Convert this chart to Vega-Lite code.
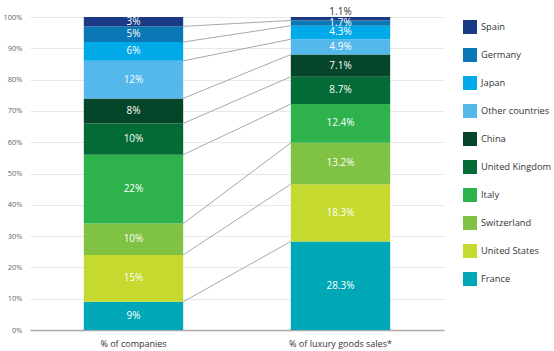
{
  "$schema": "https://vega.github.io/schema/vega-lite/v6.json",
  "autosize": {"type": "none"},
  "padding": {"left": 30, "top": 17, "right": 0, "bottom": 21},
  "width": 524,
  "height": 313,
  "config": {"view": {"stroke": null}, "font": "Open Sans",
    "axisY": {"title": null, "tickCount": 12, "labelOverlap": false, "labelFontSize": 7.5, "labelColor": "#666666", "labelPadding": 8, "ticks": false, "domain": false, "gridColor": "#e8e8e8", "gridWidth": 1}
  },
  "data": {"values": [
    {"measure": "% of companies", "country": "France", "rank": 1, "value": 9, "label": "9%"},
    {"measure": "% of companies", "country": "United States", "rank": 2, "value": 15, "label": "15%"},
    {"measure": "% of companies", "country": "Switzerland", "rank": 3, "value": 10, "label": "10%"},
    {"measure": "% of companies", "country": "Italy", "rank": 4, "value": 22, "label": "22%"},
    {"measure": "% of companies", "country": "United Kingdom", "rank": 5, "value": 10, "label": "10%"},
    {"measure": "% of companies", "country": "China", "rank": 6, "value": 8, "label": "8%"},
    {"measure": "% of companies", "country": "Other countries", "rank": 7, "value": 12, "label": "12%"},
    {"measure": "% of companies", "country": "Japan", "rank": 8, "value": 6, "label": "6%"},
    {"measure": "% of companies", "country": "Germany", "rank": 9, "value": 5, "label": "5%"},
    {"measure": "% of companies", "country": "Spain", "rank": 10, "value": 3, "label": "3%"},
    {"measure": "% of luxury goods sales*", "country": "France", "rank": 1, "value": 28.3, "label": "28.3%"},
    {"measure": "% of luxury goods sales*", "country": "United States", "rank": 2, "value": 18.3, "label": "18.3%"},
    {"measure": "% of luxury goods sales*", "country": "Switzerland", "rank": 3, "value": 13.2, "label": "13.2%"},
    {"measure": "% of luxury goods sales*", "country": "Italy", "rank": 4, "value": 12.4, "label": "12.4%"},
    {"measure": "% of luxury goods sales*", "country": "United Kingdom", "rank": 5, "value": 8.7, "label": "8.7%"},
    {"measure": "% of luxury goods sales*", "country": "China", "rank": 6, "value": 7.1, "label": "7.1%"},
    {"measure": "% of luxury goods sales*", "country": "Other countries", "rank": 7, "value": 4.9, "label": "4.9%"},
    {"measure": "% of luxury goods sales*", "country": "Japan", "rank": 8, "value": 4.3, "label": "4.3%"},
    {"measure": "% of luxury goods sales*", "country": "Germany", "rank": 9, "value": 1.7, "label": "1.7%"},
    {"measure": "% of luxury goods sales*", "country": "Spain", "rank": 10, "value": 1.1, "label": "1.1%"}
  ]},
  "encoding": {
    "x": {
      "field": "measure", "type": "nominal", "sort": null,
      "scale": {"range": [0, 414], "paddingInner": 0.52, "paddingOuter": 0.26},
      "axis": {"title": null, "labelAngle": 0, "ticks": false, "labelPadding": 9, "labelFontSize": 9, "labelColor": "#333333", "domainColor": "#aaaaaa", "domainWidth": 1.5}
    }
  },
  "layer": [
    {
      "mark": {"type": "bar", "width": {"band": 1}},
      "encoding": {
        "y": {
          "field": "value", "type": "quantitative", "stack": "zero",
          "scale": {"domain": [0, 100], "nice": false},
          "axis": {"values": [0, 10, 20, 30, 40, 50, 60, 70, 80, 90, 100], "tickCount": 12, "labelExpr": "datum.value + '%'"}
        },
        "order": {"field": "rank", "type": "quantitative", "sort": "ascending"},
        "color": {
          "field": "country", "type": "nominal",
          "scale": {
            "domain": ["Spain", "Germany", "Japan", "Other countries", "China", "United Kingdom", "Italy", "Switzerland", "United States", "France"],
            "range": ["#1a3a86", "#0a78b4", "#00a9e8", "#54b8ea", "#05462a", "#036b36", "#2eb34c", "#7fc244", "#c5d92f", "#00a7b7"]
          },
          "legend": {
            "title": null, "orient": "none", "legendX": 433, "legendY": 3,
            "symbolType": "square", "symbolSize": 196, "symbolStrokeWidth": 0, "symbolOpacity": 1,
            "rowPadding": 14, "labelFontSize": 9.3, "labelColor": "#333333", "labelOffset": 4, "labelLimit": 120
          }
        }
      }
    },
    {
      "transform": [
        {"stack": "value", "groupby": ["measure"], "sort": [{"field": "rank", "order": "ascending"}], "as": ["s0", "s1"]},
        {"pivot": "measure", "value": "s1", "groupby": ["country"]},
        {"filter": "datum.country !== 'Spain'"}
      ],
      "mark": {"type": "rule", "color": "#a8a8a8", "strokeWidth": 1},
      "encoding": {
        "x": {"datum": "% of companies", "type": "nominal", "bandPosition": 1},
        "x2": {"datum": "% of luxury goods sales*", "bandPosition": 0},
        "y": {"field": "% of companies", "type": "quantitative"},
        "y2": {"field": "% of luxury goods sales*"}
      }
    },
    {
      "transform": [{"filter": "!(datum.country === 'Spain' && datum.value < 2)"}],
      "mark": {"type": "text", "color": "white", "fontSize": 10, "baseline": "middle"},
      "encoding": {
        "y": {"field": "value", "type": "quantitative", "stack": "zero", "bandPosition": 0.5},
        "order": {"field": "rank", "type": "quantitative", "sort": "ascending"},
        "text": {"field": "label"}
      }
    },
    {
      "transform": [
        {"stack": "value", "groupby": ["measure"], "sort": [{"field": "rank", "order": "ascending"}], "as": ["s0", "s1"]},
        {"filter": "datum.country === 'Spain' && datum.value < 2"}
      ],
      "mark": {"type": "text", "color": "#333333", "fontSize": 10, "baseline": "bottom", "dy": 0},
      "encoding": {
        "y": {"field": "s1", "type": "quantitative"},
        "text": {"field": "label"}
      }
    }
  ]
}
